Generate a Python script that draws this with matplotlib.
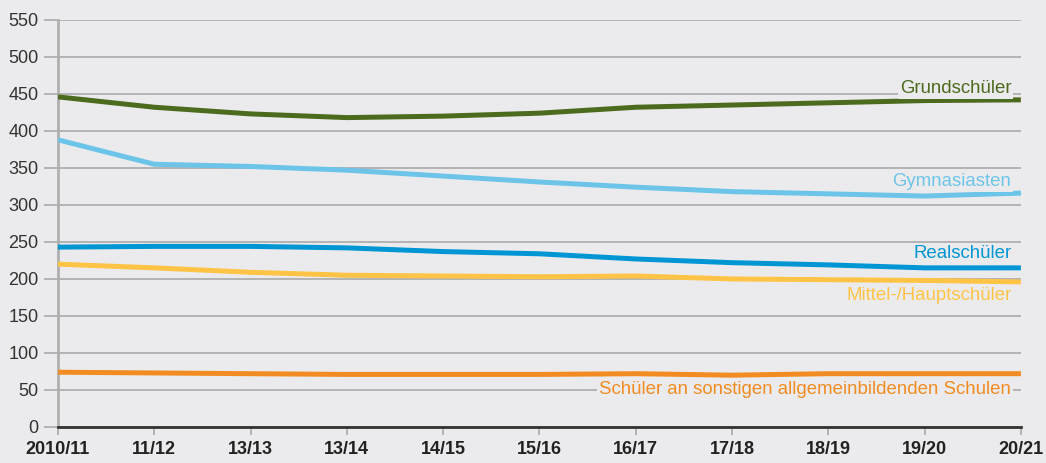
import matplotlib
matplotlib.use("Agg")
import matplotlib.pyplot as plt

plt.rcParams["font.family"] = ["Liberation Sans", "DejaVu Sans"]

years = ["2010/11", "11/12", "13/13", "13/14", "14/15", "15/16", "16/17", "17/18", "18/19", "19/20", "20/21"]
grundschueler = [446, 432, 423, 418, 420, 424, 432, 435, 438, 441, 442]
gymnasiasten = [388, 355, 352, 347, 339, 331, 324, 318, 315, 312, 316]
realschueler = [243, 244, 244, 242, 237, 234, 227, 222, 219, 215, 215]
mittel_haupt = [220, 215, 209, 205, 204, 203, 204, 200, 199, 198, 196]
sonstige = [74, 73, 72, 71, 71, 71, 72, 70, 72, 72, 72]

series = [
    ("Grundschüler", grundschueler, "#4d6b1e", 457),
    ("Gymnasiasten", gymnasiasten, "#6cc5e9", 332),
    ("Realschüler", realschueler, "#0096d4", 235),
    ("Mittel-/Hauptschüler", mittel_haupt, "#ffc445", 177),
    ("Schüler an sonstigen allgemeinbildenden Schulen", sonstige, "#f28c22", 50),
]

bg = "#ebebed"
fig = plt.figure(figsize=(10.46, 4.63), dpi=100, facecolor=bg)
ax = fig.add_axes([0.0554, 0.0778, 0.9206, 0.8792], facecolor=bg)

x = list(range(len(years)))
for name, vals, col, ly in series:
    ax.plot(x, vals, color=col, lw=3.6, solid_capstyle="butt", zorder=3)
    ax.text(9.9, ly, name, color=col, fontsize=13.4, ha="right", va="center", zorder=4,
            bbox=dict(facecolor=bg, edgecolor="none", pad=1.5))

ax.set_xlim(0, 10)
ax.set_ylim(0, 550)
ax.set_yticks(range(0, 551, 50))
ax.set_xticks(x)
ax.set_xticklabels(years, fontsize=13, fontweight="bold", color="#222222")
ax.tick_params(axis="y", labelsize=13, labelcolor="#333333", length=10, width=1.2, color="#aaaaaa", pad=4)
ax.tick_params(axis="x", length=6, width=1.2, color="#aaaaaa", pad=4)
ax.grid(axis="y", color="#aaaaaa", lw=1.2, zorder=1)
ax.set_axisbelow(True)
for s in ["top", "right"]:
    ax.spines[s].set_visible(False)
ax.spines["left"].set_color("#b0b0b0")
ax.spines["left"].set_linewidth(2)
ax.spines["bottom"].set_color("#333333")
ax.spines["bottom"].set_linewidth(2)
ax.spines["bottom"].set_zorder(5)

fig.savefig("out.png", dpi=100, facecolor=bg)
